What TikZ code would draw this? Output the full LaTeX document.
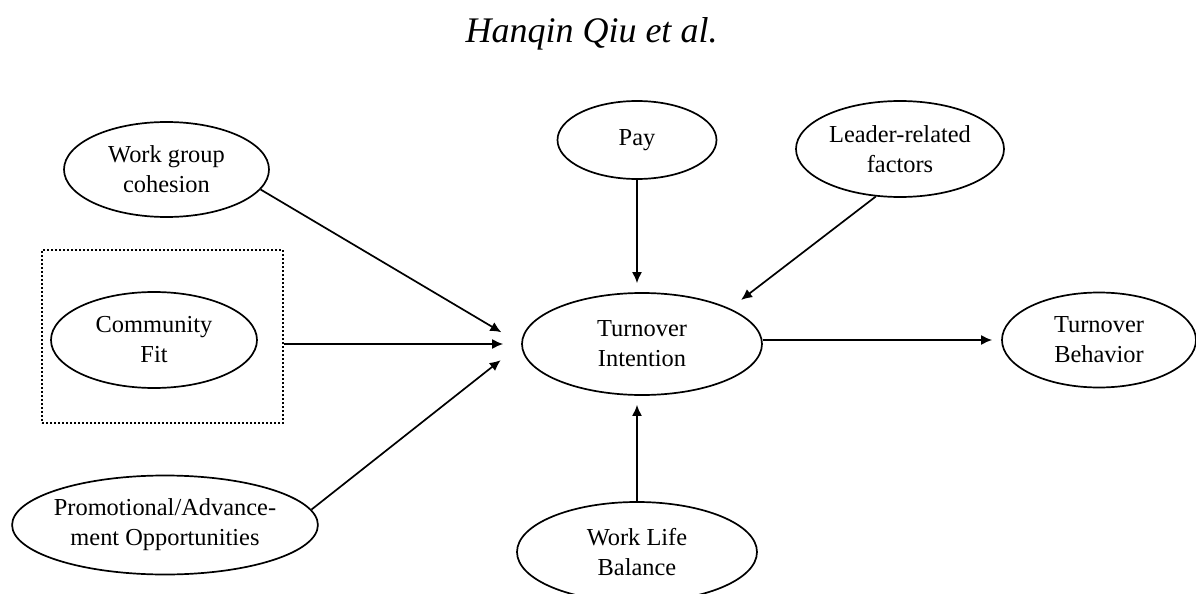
\documentclass[tikz,border=0pt]{standalone}
\usepackage{fontspec}
\setmainfont{Liberation Serif}
\usepackage{tikz}
\usetikzlibrary{shapes}
\usetikzlibrary{arrows.meta}

\begin{document}
\begin{tikzpicture}[x=0.5pt,y=-0.5pt]
\tikzset{factor/.style = {shape=ellipse,draw,line width=.85pt,inner sep=0pt,align=center,font=\fontsize{12.2}{15}\selectfont}}
\tikzset{edge/.style = {->,> = {Latex[length=5.5pt,width=5pt]},line width=.85pt}}
\useasboundingbox (0,0) rectangle (1196,594);

% title
\node[anchor=base,font=\fontsize{18}{20}\selectfont\itshape] (title) at (591.5,42) {Hanqin Qiu et al.};

% vertices
\node[draw,line width=.7pt,dash pattern=on .8pt off 1.2pt,minimum width=120.5pt,minimum height=86.5pt,inner sep=0pt] (box) at (162.5,336.5) {};
\node[factor,minimum width=102.5pt,minimum height=47.5pt] (wgc) at (166.5,169.5) {Work group\\cohesion};
\node[factor,minimum width=103pt,minimum height=48pt] (cf) at (154,340) {Community\\Fit};
\node[factor,inner xsep=-1.5pt,minimum width=151pt,minimum height=49.5pt] (promo) at (165,525) {Promotional/Advance-\\ment Opportunities};
\node[factor,minimum width=79.5pt,minimum height=39pt] (pay) at (637,140) {Pay};
\node[factor,minimum width=104pt,minimum height=48pt] (lead) at (900,149) {Leader-related\\factors};
\node[factor,minimum width=120pt,minimum height=51pt] (ti) at (642,344) {Turnover\\Intention};
\node[factor,minimum width=97pt,minimum height=47.5pt] (tb) at (1099,340) {Turnover\\Behavior};
\node[factor,minimum width=120pt,minimum height=50pt] (wlb) at (637,552) {Work Life\\Balance};

% edges
\draw[edge, shorten >=11.5pt] (wgc.-12) to (ti.west);
\draw[edge, shorten >=9pt] (box.east |- ti.west) to (ti.west);
\draw[edge, shorten >=13pt] (promo.6) to (ti.west);
\draw[edge, shorten >=4.5pt] (pay.south) to (pay.south |- ti.north);
\draw[edge, shorten >=7pt] (lead.243) to (ti.22);
\draw[edge, shorten >=4.5pt] (wlb.north) to (wlb.north |- ti.south);
\draw[edge, shorten >=4.5pt] (ti.east |- tb.west) to (tb.west);

\end{tikzpicture}
\end{document}
